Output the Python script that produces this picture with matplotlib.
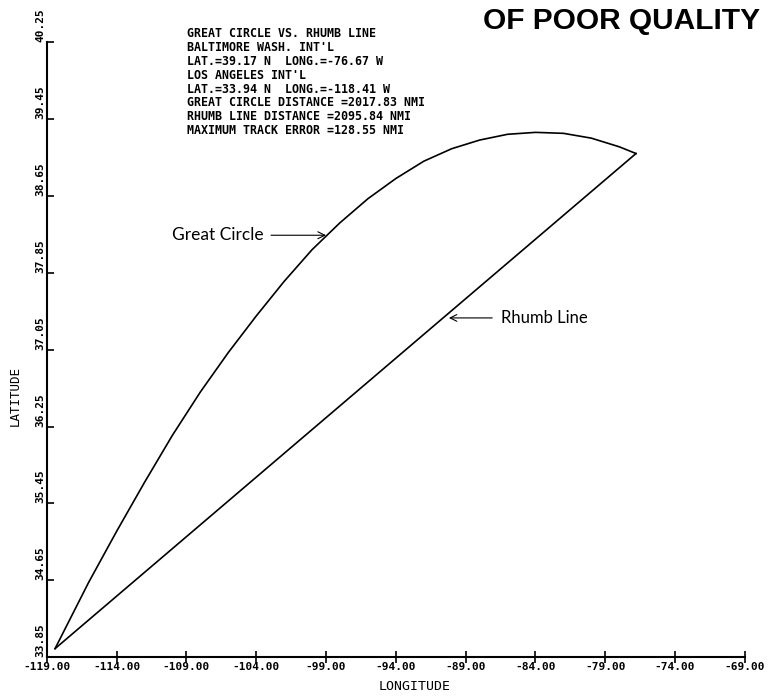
import numpy as np
import matplotlib.pyplot as plt

# great circle track (longitude, latitude)
gc_lon = [-118.41, -116.0, -114.0, -112.0, -110.0, -108.0, -106.0, -104.0,
          -102.0, -100.0, -98.0, -96.0, -94.0, -92.0, -90.0, -88.0,
          -86.0, -84.0, -82.0, -80.0, -78.0, -76.80]
gc_lat = [33.94, 34.63, 35.16, 35.67, 36.16, 36.61, 37.02, 37.40,
          37.76, 38.09, 38.37, 38.62, 38.83, 39.01, 39.14, 39.23,
          39.29, 39.31, 39.30, 39.25, 39.16, 39.09]

# rhumb line end points
rl_lon = [-118.41, -76.80]
rl_lat = [33.94, 39.09]

x_ticks = [-119, -114, -109, -104, -99, -94, -89, -84, -79, -74, -69]
y_ticks = [33.85, 34.65, 35.45, 36.25, 37.05, 37.85, 38.65, 39.45, 40.25]

info_lines = [
    "GREAT CIRCLE VS. RHUMB LINE",
    "BALTIMORE WASH. INT'L",
    "LAT.=39.17 N  LONG.=-76.67 W",
    "LOS ANGELES INT'L",
    "LAT.=33.94 N  LONG.=-118.41 W",
    "GREAT CIRCLE DISTANCE =2017.83 NMI",
    "RHUMB LINE DISTANCE =2095.84 NMI",
    "MAXIMUM TRACK ERROR =128.55 NMI",
]

mono = {'family': 'DejaVu Sans Mono', 'weight': 'bold'}

fig = plt.figure(figsize=(7.8, 7.0), dpi=100)
ax = fig.add_axes([0.060, 0.061, 0.895, 0.879])

ax.plot(gc_lon, gc_lat, color='black', lw=1.2)
ax.plot(rl_lon, rl_lat, color='black', lw=1.2)

ax.set_xlim(-119, -69)
ax.set_ylim(33.85, 40.25)
ax.spines['top'].set_visible(False)
ax.spines['right'].set_visible(False)
ax.spines['left'].set_linewidth(1.5)
ax.spines['bottom'].set_linewidth(1.5)

ax.set_xticks(x_ticks)
ax.set_xticklabels([f"{v:.2f}" for v in x_ticks], fontdict=mono, fontsize=8)
ax.set_yticks(y_ticks)
ax.set_yticklabels([f"{v:.2f}" for v in y_ticks], fontdict=mono, fontsize=8)
ax.tick_params(axis='x', direction='inout', length=9, width=1.2, pad=-1)
ax.tick_params(axis='y', direction='in', length=5, width=1.2, pad=1)
plt.setp(ax.get_yticklabels(), rotation=90, va='bottom', ha='right')

# info block
for i, line in enumerate(info_lines):
    fig.text(0.240, 0.952 - i * 0.0198, line, fontdict=mono, fontsize=8.4,
             ha='left', va='center')

fig.text(0.619, 0.970, "OF POOR QUALITY", family='Liberation Sans',
         weight='bold', fontsize=21.5, ha='left', va='center')

# curve annotations
ax.annotate("Great Circle", xy=(-99.0, 38.24), xytext=(-110.0, 38.24),
            fontsize=12.5, family='Lato', va='center', ha='left',
            arrowprops=dict(arrowstyle='->', color='black', lw=0.8,
                            shrinkA=3, shrinkB=0))
ax.annotate("Rhumb Line", xy=(-90.2, 37.38), xytext=(-86.5, 37.38),
            fontsize=12, family='Lato', va='center', ha='left',
            arrowprops=dict(arrowstyle='->', color='black', lw=0.8,
                            shrinkA=4, shrinkB=0))

fig.text(0.532, 0.020, "LONGITUDE", family='DejaVu Sans Mono', fontsize=9.5,
         ha='center', va='center')
fig.text(0.020, 0.434, "LATITUDE", family='DejaVu Sans Mono', fontsize=9,
         rotation=90, ha='center', va='center')

fig.savefig('out.png', dpi=100)
